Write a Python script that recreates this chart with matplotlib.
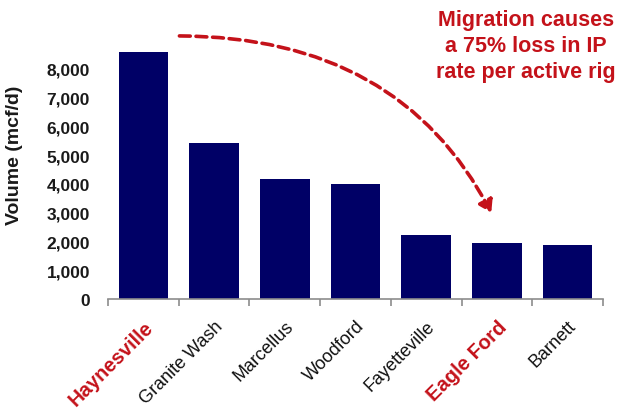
import matplotlib
matplotlib.use("Agg")
import matplotlib.pyplot as plt
from matplotlib.patches import FancyArrowPatch
from matplotlib.path import Path
from matplotlib.ticker import FuncFormatter

plays = ["Haynesville", "Granite Wash", "Marcellus", "Woodford",
         "Fayetteville", "Eagle Ford", "Barnett"]
volumes = [8600, 5430, 4170, 4000, 2230, 1950, 1880]
highlighted = ["Haynesville", "Eagle Ford"]
y_ticks = [0, 1000, 2000, 3000, 4000, 5000, 6000, 7000, 8000]

navy = "#000066"
red = "#c4121a"

plt.rcParams["font.family"] = ["Liberation Sans", "DejaVu Sans"]

fig = plt.figure(figsize=(6.22, 4.14), dpi=100)
ax = fig.add_axes([0.1736, 0.2754, 0.7959, 0.6250])

x = list(range(len(plays)))
ax.bar(x, volumes, width=0.70, color=navy, zorder=2)

ax.set_xlim(-0.5, len(plays) - 0.5)
ax.set_ylim(0, 9000)

for side in ("top", "right", "left"):
    ax.spines[side].set_visible(False)
ax.spines["bottom"].set_color("#8c8c8c")
ax.spines["bottom"].set_linewidth(1.2)

ax.set_yticks(y_ticks)
ax.yaxis.set_major_formatter(FuncFormatter(lambda v, p: f"{int(v):,}"))
ax.tick_params(axis="y", length=0, pad=13, labelsize=12.5, labelcolor="#1a1a1a")
for lab in ax.get_yticklabels():
    lab.set_fontweight("bold")

ax.set_xticks(x)
ax.set_xticks([i - 0.5 for i in range(len(plays) + 1)], minor=True)
ax.tick_params(axis="x", which="major", length=0, pad=13)
ax.tick_params(axis="x", which="minor", length=5, width=1.2, color="#8c8c8c")
ax.set_xticklabels(plays, rotation=45, ha="right", rotation_mode="anchor")
for lab in ax.get_xticklabels():
    if lab.get_text() in highlighted:
        lab.set_color(red)
        lab.set_fontweight("bold")
        lab.set_fontsize(14.5)
    else:
        lab.set_color("#111111")
        lab.set_fontsize(13)

ax.set_ylabel("Volume (mcf/d)", fontsize=14, fontweight="bold", color="#1a1a1a")
ax.yaxis.set_label_coords(-0.172, 0.56)

# dashed curved arrow from the leading play down to Eagle Ford
verts = [(0.51, 9150), (3.62, 9120), (4.92, 3000)]
curve = Path(verts, [Path.MOVETO, Path.CURVE3, Path.CURVE3])
arrow = FancyArrowPatch(path=curve, arrowstyle="-|>,head_length=7,head_width=4.5",
                        color=red, linewidth=2.6, linestyle=(0, (3, 1.6)),
                        clip_on=False, zorder=3)
ax.add_patch(arrow)

fig.text(526 / 622, 1 - 10 / 414, "Migration causes\na 75% loss in IP\nrate per active rig",
         ha="center", va="top", multialignment="center", color=red,
         fontsize=15.5, fontweight="bold", linespacing=1.3)

fig.savefig("out.png", dpi=100, facecolor="white")
